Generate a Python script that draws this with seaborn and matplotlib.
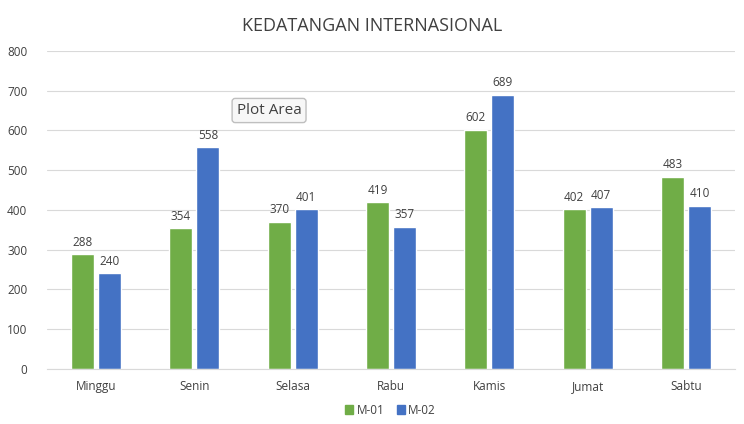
import pandas as pd
import matplotlib.pyplot as plt
import seaborn as sns
from matplotlib.patches import Patch

# data
hari = ['Minggu', 'Senin', 'Selasa', 'Rabu', 'Kamis', 'Jumat', 'Sabtu']
m01 = [288, 354, 370, 419, 602, 402, 483]
m02 = [240, 558, 401, 357, 689, 407, 410]

df = pd.DataFrame({
    'hari': hari * 2,
    'jumlah': m01 + m02,
    'seri': ['M-01'] * len(hari) + ['M-02'] * len(hari),
})

sns.set_style('white')
plt.rcParams['font.family'] = ['Open Sans', 'DejaVu Sans']

fig = plt.figure(figsize=(7.44, 4.24), dpi=100)
ax = fig.add_axes([0.063, 0.13, 0.925, 0.75])

sns.barplot(data=df, x='hari', y='jumlah', hue='seri',
            palette=['#70AD47', '#4472C4'], saturation=1,
            width=0.55, gap=0.15, ax=ax, legend=False)

for c in ax.containers:
    ax.bar_label(c, padding=4, fontsize=8.5, color='#404040')

ax.set_ylim(0, 800)
ax.set_yticks(range(0, 801, 100))
ax.yaxis.grid(True, color='#d9d9d9', linewidth=0.8)
ax.set_axisbelow(True)
for s in ['left', 'right', 'top']:
    ax.spines[s].set_visible(False)
ax.spines['bottom'].set_color('#d9d9d9')
ax.tick_params(axis='both', length=0, labelsize=8.5, colors='#404040')
ax.tick_params(axis='x', pad=8)
ax.tick_params(axis='y', pad=14)
ax.set_xlabel('')
ax.set_ylabel('')
ax.set_xlim(-0.5, 6.5)

fig.suptitle('KEDATANGAN INTERNASIONAL', y=0.96, fontsize=13, color='#404040')

# legend
handles = [Patch(color='#70AD47', label='M-01'), Patch(color='#4472C4', label='M-02')]
fig.legend(handles=handles, loc='center', bbox_to_anchor=(0.525, 0.033), ncol=2,
           frameon=False, fontsize=8.5, handlelength=0.7, handleheight=0.7,
           columnspacing=1.0, handletextpad=0.3, labelcolor='#404040')

# the "Plot Area" tooltip seen in the screenshot
ax.text(1.76, 650, 'Plot Area', fontsize=11, color='#404040', va='center', ha='center',
        bbox=dict(boxstyle='round,pad=0.3,rounding_size=0.2', facecolor='#f7f7f7',
                  edgecolor='#bfbfbf'))

fig.savefig('out.png', dpi=100)
